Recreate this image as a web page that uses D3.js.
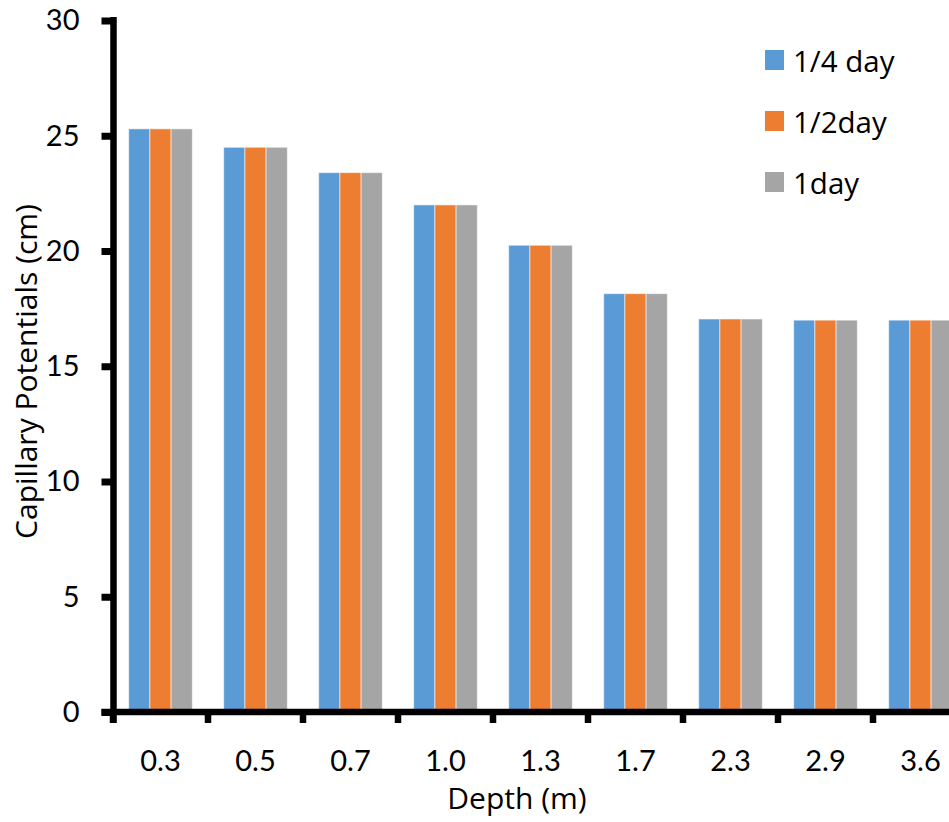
<!DOCTYPE html>
<html>
<head>
<meta charset="utf-8">
<script src="https://cdn.jsdelivr.net/npm/d3@7"></script>
<style>
  html, body { margin: 0; padding: 0; background: #fff; }
  svg { display: block; font-family: Lato, "Open Sans", sans-serif; }
  .title, .legend-label { font-family: "Open Sans", Lato, sans-serif; }
</style>
</head>
<body>
<svg id="chart" width="949" height="822"></svg>
<script>
// Depth categories (m) along the x axis
const depths = ["0.3", "0.5", "0.7", "1.0", "1.3", "1.7", "2.3", "2.9", "3.6"];
// Series names
const seriesNames = ["1/4 day", "1/2day", "1day"];
// Capillary potentials (cm) per depth, one array per series
const quarterDay = [25.3, 24.5, 23.4, 22.0, 20.25, 18.15, 17.05, 17.0, 17.0];
const halfDay    = [25.3, 24.5, 23.4, 22.0, 20.25, 18.15, 17.05, 17.0, 17.0];
const oneDay     = [25.3, 24.5, 23.4, 22.0, 20.25, 18.15, 17.05, 17.0, 17.0];
const seriesValues = [quarterDay, halfDay, oneDay];
const yTicks = [0, 5, 10, 15, 20, 25, 30];
const colors = ["#5B9BD5", "#ED7D31", "#A5A5A5"];

const svg = d3.select("#chart");
const axisX0 = 113.5;   // y-axis line position
const axisY0 = 712;     // x-axis line position
const x0 = 113, x1 = 968;

const x = d3.scaleBand().domain(depths).range([x0, x1])
  .paddingInner(0.33).paddingOuter(0.165);
const xs = d3.scaleBand().domain(seriesNames).range([0, x.bandwidth()]);
const y = d3.scaleLinear().domain([0, 30]).range([axisY0, 20.5]);

const rows = depths.map((d, i) => ({
  depth: d,
  values: seriesNames.map((s, k) => ({ series: s, k, value: seriesValues[k][i] }))
}));

// Bars
const groups = svg.append("g").selectAll("g").data(rows).join("g")
  .attr("transform", d => `translate(${x(d.depth)},0)`);
groups.selectAll("rect").data(d => d.values).join("rect")
  .attr("x", d => xs(d.series))
  .attr("width", xs.bandwidth())
  .attr("y", d => y(d.value))
  .attr("height", d => y(0) - y(d.value))
  .attr("fill", d => colors[d.k])
  .attr("stroke", "rgba(255,255,255,0.55)")
  .attr("stroke-width", 1);

// Y axis
const yAxis = svg.append("g")
  .attr("transform", `translate(${axisX0},0)`)
  .call(d3.axisLeft(y).tickValues(yTicks).tickSize(12).tickPadding(22).tickSizeOuter(0));
yAxis.select(".domain").remove();
yAxis.selectAll(".tick line").attr("stroke", "#000").attr("stroke-width", 7);
yAxis.selectAll(".tick text").attr("font-size", 29).attr("fill", "#000")
  .attr("font-family", "Lato, 'Open Sans', sans-serif");
yAxis.append("line")
  .attr("x1", 0).attr("x2", 0)
  .attr("y1", y(30) - 3.5).attr("y2", axisY0 + 11)
  .attr("stroke", "#000").attr("stroke-width", 6.5);

// X axis: labels centred on bands, ticks at band boundaries
const xAxis = svg.append("g")
  .attr("transform", `translate(0,${axisY0})`)
  .call(d3.axisBottom(x).tickSize(0).tickPadding(38));
xAxis.select(".domain").remove();
xAxis.selectAll(".tick text").attr("font-size", 29).attr("fill", "#000")
  .attr("font-family", "Lato, 'Open Sans', sans-serif");
const boundaries = d3.range(depths.length + 1).map(i => x0 + i * x.step());
xAxis.selectAll(".bound").data(boundaries).join("line")
  .attr("class", "bound")
  .attr("x1", d => d).attr("x2", d => d)
  .attr("y1", 0).attr("y2", 11)
  .attr("stroke", "#000").attr("stroke-width", 6.5);
xAxis.append("line")
  .attr("x1", axisX0 - 12).attr("x2", 949)
  .attr("y1", 0).attr("y2", 0)
  .attr("stroke", "#000").attr("stroke-width", 6.5);

// Axis titles
svg.append("text").attr("class", "title")
  .attr("x", 517).attr("y", 809)
  .attr("text-anchor", "middle")
  .attr("font-size", 30)
  .text("Depth (m)");
svg.append("text").attr("class", "title")
  .attr("transform", "translate(36.5,371.5) rotate(-90)")
  .attr("text-anchor", "middle")
  .attr("font-size", 30)
  .text("Capillary Potentials (cm)");

// Legend
const legend = svg.append("g").selectAll("g").data(seriesNames).join("g")
  .attr("transform", (d, i) => `translate(765,${50 + i * 61})`);
legend.append("rect").attr("width", 19).attr("height", 20)
  .attr("fill", (d, i) => colors[i]);
legend.append("text").attr("class", "legend-label").attr("x", 28).attr("y", 21.5)
  .attr("font-size", 29.5).text(d => d);
</script>
</body>
</html>
